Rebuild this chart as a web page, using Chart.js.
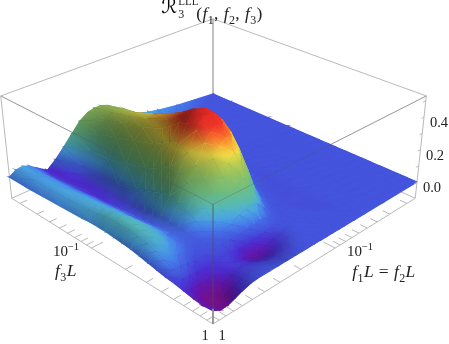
<!DOCTYPE html>
<html><head><meta charset="utf-8">
<style>
html,body{margin:0;padding:0;background:#fff}
#wrap{position:relative;width:449px;height:344px;overflow:hidden}
canvas{position:absolute;left:0;top:0;filter:blur(.5px)}
.t{position:absolute;font-family:"Liberation Serif",serif;font-size:14.5px;color:#222;white-space:nowrap;line-height:1;transform:translate(-50%,-50%)}
.m{font-size:17.5px;letter-spacing:.4px}
.t i{font-style:italic}
.t sub{font-size:12px;line-height:0}
.t sup{font-size:10.5px;line-height:0}
.r{position:relative;display:inline-block;width:33px;height:1em;font-size:20px;line-height:1}
.r b{font-weight:normal;position:absolute;left:-2px;top:-3px;font-family:"DejaVu Serif","DejaVu Sans",serif;font-size:20px;color:#000}
.r u{text-decoration:none;position:absolute;left:15px;line-height:1}
</style></head><body>
<div id="wrap"><canvas id="c" width="449" height="344"></canvas>
<div class="t m" style="left:213px;top:11px"><span class="r"><b>ℛ</b><u style="top:-3px;font-size:11px;letter-spacing:0">LLL</u><u style="top:9px;font-size:12px">3</u></span>(<i>f</i><sub>1</sub>, <i>f</i><sub>2</sub>, <i>f</i><sub>3</sub>)</div>
<div class="t" style="left:439px;top:122px">0.4</div>
<div class="t" style="left:435px;top:155px">0.2</div>
<div class="t" style="left:432px;top:187px">0.0</div>
<div class="t" style="left:66px;top:251px;font-size:15px">10<sup>−1</sup></div>
<div class="t m" style="left:66px;top:271px"><i>f</i><sub>3</sub><i>L</i></div>
<div class="t" style="left:205px;top:335px">1</div>
<div class="t" style="left:222px;top:335px">1</div>
<div class="t" style="left:360px;top:251px;font-size:15px">10<sup>−1</sup></div>
<div class="t m" style="left:384px;top:272px"><i>f</i><sub>1</sub><i>L</i> = <i>f</i><sub>2</sub><i>L</i></div>
</div>
<script src="https://cdn.jsdelivr.net/npm/chart.js@4"></script>
<script>
// axis positions of the sampled grid (0 = f·L of 1, 1 = far end of the log axis)
const f12Positions=[0,.03,.06,.09,.12,.16,.2,.24,.28,.32,.36,.39,.42,.45,.48,.51,.54,.57,.6,.65,.7,.8,1];
const f3Positions=[0,.04,.08,.12,.16,.2,.24,.28,.32,.36,.4,.44,.48,.52,.56,.6,.7,.8,.9,1];
// surface height, one row per f3 position
const row00=[-.03,-.05,-.05,-.035,-.02,-.005,0,0,0,0,0,0,0,0,0,0,0,0,0,0,0,0,0];
const row01=[-.035,-.055,-.055,-.05,-.035,-.015,-.005,-.003,-.005,-.008,-.006,-.003,0,0,0,0,0,0,0,0,0,0,0];
const row02=[-.03,-.05,-.05,-.05,-.04,-.025,-.012,-.015,-.03,-.03,-.02,-.01,-.003,0,0,0,0,0,0,0,0,0,0];
const row03=[-.02,-.03,-.035,-.035,-.03,-.02,-.012,-.025,-.042,-.04,-.03,-.02,-.01,-.002,0,0,0,0,0,-.002,0,0,0];
const row04=[-.01,-.008,-.012,-.018,-.02,-.015,-.008,-.012,-.022,-.02,-.014,-.008,-.002,0,0,0,0,0,-.002,-.003,0,0,0];
const row05=[-.005,.012,.012,.003,-.005,-.006,-.002,0,0,.003,.01,.015,.02,.012,.003,0,0,-.002,-.003,-.002,0,0,0];
const row06=[.005,.035,.04,.025,.01,0,.002,.008,.018,.035,.06,.075,.085,.06,.02,.003,0,-.002,-.002,-.003,0,0,0];
const row07=[.015,.055,.065,.05,.03,.008,.005,.02,.05,.09,.14,.18,.21,.18,.09,.02,.002,0,-.003,-.002,0,0,0];
const row08=[.025,.07,.085,.07,.04,.012,.012,.05,.1,.16,.23,.29,.33,.3,.2,.08,.012,0,-.002,-.003,0,0,0];
const row09=[.035,.08,.095,.08,.05,.012,.018,.08,.15,.21,.31,.37,.4,.38,.3,.16,.05,.006,0,-.003,0,0,0];
const row10=[.04,.09,.1,.085,.05,.01,.02,.1,.19,.27,.38,.43,.45,.44,.38,.27,.12,.025,.004,-.003,0,0,0];
const row11=[.045,.09,.1,.08,.045,.005,.025,.12,.23,.32,.43,.48,.495,.48,.43,.34,.19,.06,.01,-.003,0,0,0];
const row12=[.05,.09,.095,.075,.04,0,.02,.11,.235,.35,.45,.495,.505,.49,.44,.35,.22,.09,.018,-.003,0,0,0];
const row13=[.05,.085,.088,.07,.035,-.002,.01,.09,.21,.34,.43,.47,.48,.46,.41,.33,.2,.08,.015,-.002,0,0,0];
const row14=[.05,.075,.08,.065,.035,-.005,0,.07,.18,.31,.39,.43,.44,.42,.36,.28,.17,.07,.012,-.002,0,0,0];
const row15=[.045,.07,.075,.06,.03,-.01,-.005,.05,.16,.28,.35,.39,.41,.38,.32,.24,.14,.055,.01,0,0,0,0];
const row16=[.04,.06,.065,.05,.022,-.02,-.012,.02,.12,.24,.3,.335,.35,.32,.26,.18,.1,.04,.008,.002,0,0,0];
const row17=[.035,.055,.058,.042,.012,-.022,-.02,.005,.09,.2,.26,.29,.3,.27,.21,.14,.07,.03,.012,.005,.002,0,0];
const row18=[.03,.052,.055,.04,.005,-.024,-.015,.012,.085,.17,.23,.26,.27,.25,.2,.13,.08,.05,.03,.018,.01,.005,0];
const row19=[.03,.055,.06,.04,.01,-.028,.015,.07,.13,.19,.225,.235,.235,.22,.19,.15,.125,.105,.085,.065,.05,.028,0];
const surfaceRows=[row00,row01,row02,row03,row04,row05,row06,row07,row08,row09,row10,row11,row12,row13,row14,row15,row16,row17,row18,row19];
// log axis: tick values and the number of decades the axis spans
const axisMinorTicks=[.9,.8,.7,.6,.5,.4,.3,.2,.09,.08,.07,.06,.05,.04,.03,.02];
const axisMajorTicks=[.1];
const axisDecades=1.786;
const heightTicks=[0,.1,.2,.3,.4,.5];
const heightBottom=-.1, heightTop=.53;

// view: perspective camera expressed as plane corners and vanishing of the verticals
const cF=[213,305],cR=[417,182],cL=[10,182],cB=[213,94];
function project(i,j,z){
  const a=(1-i)*(1-j),b=1.2*i*(1-j),c=1.2*(1-i)*j,d=1.4*i*j,w=a+b+c+d;
  const x=(a*cF[0]+b*cR[0]+c*cL[0]+d*cB[0])/w;
  const y=(a*cF[1]+b*cR[1]+c*cL[1]+d*cB[1])/w;
  return {x:x+(x-213)*.086*z, y:y-z*190/(1+.17*i+.17*j)};
}
const cmap=[[-.06,125,15,125],[-.04,100,20,170],[-.02,75,45,210],[0,68,84,220],[.03,70,125,235],[.06,75,165,225],[.1,85,185,185],[.16,110,190,130],[.24,150,195,95],[.29,195,205,80],[.33,240,220,70],[.37,250,170,55],[.41,248,105,45],[.45,240,55,40],[.52,225,35,35]];
function colourRGB(z){
  let k=0; if(z>cmap[0][0]){ while(k<cmap.length-2&&z>cmap[k+1][0])k++; }
  const A=cmap[k],B=cmap[k+1];
  const t=Math.max(0,Math.min(1,(z-A[0])/(B[0]-A[0])));
  return [1,2,3].map(n=>A[n]+(B[n]-A[n])*t);
}
function colour(z,s=1){
  const c=colourRGB(z).map(v=>Math.round(v*s));
  return `rgb(${c[0]},${c[1]},${c[2]})`;
}
const nI=f12Positions.length,nJ=f3Positions.length;
function slope(arr,pos,n,k){const l=Math.max(0,k-1),h=Math.min(n-1,k+1);return (arr(h)-arr(l))/(pos[h]-pos[l]);}
function shade(ii,jj){
  const k=.8;
  const di=slope(q=>surfaceRows[jj][q],f12Positions,nI,ii)*k;
  const dj=slope(q=>surfaceRows[q][ii],f3Positions,nJ,jj)*k;
  const m=Math.hypot(di,dj,1);
  const dot=(-di*.3+dj*.75+.6)/m;
  return Math.min(1,.55+.75*Math.max(0,dot));
}
const ctx=document.getElementById('c').getContext('2d');
// canvas gradient whose colour follows a value that is linear over the triangle
function triGradient(p,v,stops){
  const e1=[p[1].x-p[0].x,p[1].y-p[0].y],e2=[p[2].x-p[0].x,p[2].y-p[0].y];
  const det=e1[0]*e2[1]-e1[1]*e2[0];
  const vm=(v[0]+v[1]+v[2])/3;
  const lo=Math.min(...v),hi=Math.max(...v);
  if(Math.abs(det)<1e-4||hi-lo<1e-6) return stops(vm);
  const d1=v[1]-v[0],d2=v[2]-v[0];
  const gx=(d1*e2[1]-d2*e1[1])/det,gy=(e1[0]*d2-e2[0]*d1)/det;
  const g2=gx*gx+gy*gy;
  if(g2<1e-14) return stops(vm);
  const kl=v.indexOf(lo);
  const x0=p[kl].x,y0=p[kl].y;
  const grad=ctx.createLinearGradient(x0,y0,x0+gx*(hi-lo)/g2,y0+gy*(hi-lo)/g2);
  const n=Math.max(2,Math.min(10,Math.ceil((hi-lo)/.012)));
  for(let q=0;q<=n;q++) grad.addColorStop(q/n,stops(lo+(hi-lo)*q/n));
  return grad;
}
function grow(p,amount){
  const cx=(p[0].x+p[1].x+p[2].x)/3,cy=(p[0].y+p[1].y+p[2].y)/3;
  return p.map(q=>{const dx=q.x-cx,dy=q.y-cy,l=Math.hypot(dx,dy)||1;return {x:q.x+dx/l*amount,y:q.y+dy/l*amount};});
}
function lineSet(points,color,width){
  return {data:points,showLine:true,fill:false,borderColor:color,borderWidth:width,pointRadius:0,clip:false};
}
function polySet(points,fillStyle){
  return {data:[...points,points[0]],showLine:true,fill:'shape',backgroundColor:fillStyle,borderColor:'rgba(0,0,0,0)',borderWidth:0,pointRadius:0,tension:0,clip:false};
}
const datasets=[];
const edge='#b9b9b9',over='rgba(80,80,80,.28)';
const frontPts=(z)=>[project(1,0,z),project(0,0,z),project(0,1,z)];
// front parts: drawn over the surface (first dataset is painted last)
datasets.push(lineSet(frontPts(heightTop),over,1));
datasets.push(lineSet([project(0,0,heightTop),project(0,0,heightBottom)],over,1));
datasets.push(lineSet([project(0,0,-.02),project(0,0,heightBottom)],edge,1));
datasets.push(lineSet(frontPts(heightBottom),edge,1));
const logPos=f=>-Math.log10(f)/axisDecades;
axisMinorTicks.forEach(f=>{const t=logPos(f);
  datasets.push(lineSet([project(0,t,heightBottom),project(.03,t,heightBottom)],edge,1));
  datasets.push(lineSet([project(t,0,heightBottom),project(t,.03,heightBottom)],edge,1));});
axisMajorTicks.forEach(f=>{const t=logPos(f);
  datasets.push(lineSet([project(0,t,heightBottom),project(.05,t,heightBottom)],edge,1));
  datasets.push(lineSet([project(t,0,heightBottom),project(t,.05,heightBottom)],edge,1));});
heightTicks.forEach(z=>{datasets.push(lineSet([project(1,0,z),project(.985,0,z)],edge,1));});
// surface triangles, nearest first; each has an underlay, a colour layer and a shadow layer
for(let ii=0;ii<nI-1;ii++){
  for(let jj=0;jj<nJ-1;jj++){
    const A=[ii,jj],B=[ii+1,jj],C=[ii+1,jj+1],D=[ii,jj+1];
    const H=v=>surfaceRows[v[1]][v[0]];
    const tris=Math.abs(H(A)-H(C))<Math.abs(H(B)-H(D))?[[A,B,C],[A,C,D]]:[[A,B,D],[B,C,D]];
    tris.forEach(tri=>{
      const z=tri.map(H);
      const s=tri.map(v=>shade(v[0],v[1]));
      const p=tri.map((v,n)=>project(f12Positions[v[0]],f3Positions[v[1]],z[n]));
      const big=grow(p,.4);
      const shadow=triGradient(p,s,q=>`rgba(0,0,0,${(1-q).toFixed(3)})`);
      if(Math.min(...s)<.999) datasets.push(polySet(big,shadow));
      datasets.push(polySet(big,triGradient(p,z,colour)));
      const mz=(z[0]+z[1]+z[2])/3,ms=(s[0]+s[1]+s[2])/3;
      datasets.push(lineSet([...p,p[0]],colour(mz,ms),1.3));
    });
  }
}
// back parts of the box
datasets.push(lineSet(frontPts(heightTop),edge,1));
datasets.push(lineSet([project(1,0,heightTop),project(1,1,heightTop),project(0,1,heightTop)],edge,1));
datasets.push(lineSet([project(1,1,heightTop),project(1,1,heightBottom)],edge,1));
datasets.push(lineSet([project(0,1,heightTop),project(0,1,heightBottom)],edge,1));
datasets.push(lineSet([project(1,0,heightTop),project(1,0,heightBottom)],edge,1));
datasets.push(lineSet([project(1,0,heightBottom),project(1,1,heightBottom),project(0,1,heightBottom)],edge,1));
new Chart(document.getElementById('c'),{type:'scatter',data:{datasets},options:{
  responsive:false,animation:false,events:[],devicePixelRatio:1,
  layout:{padding:0},
  plugins:{legend:{display:false},tooltip:{enabled:false}},
  scales:{x:{type:'linear',min:0,max:449,display:false},y:{type:'linear',min:0,max:344,reverse:true,display:false}}
}});
</script></body></html>
